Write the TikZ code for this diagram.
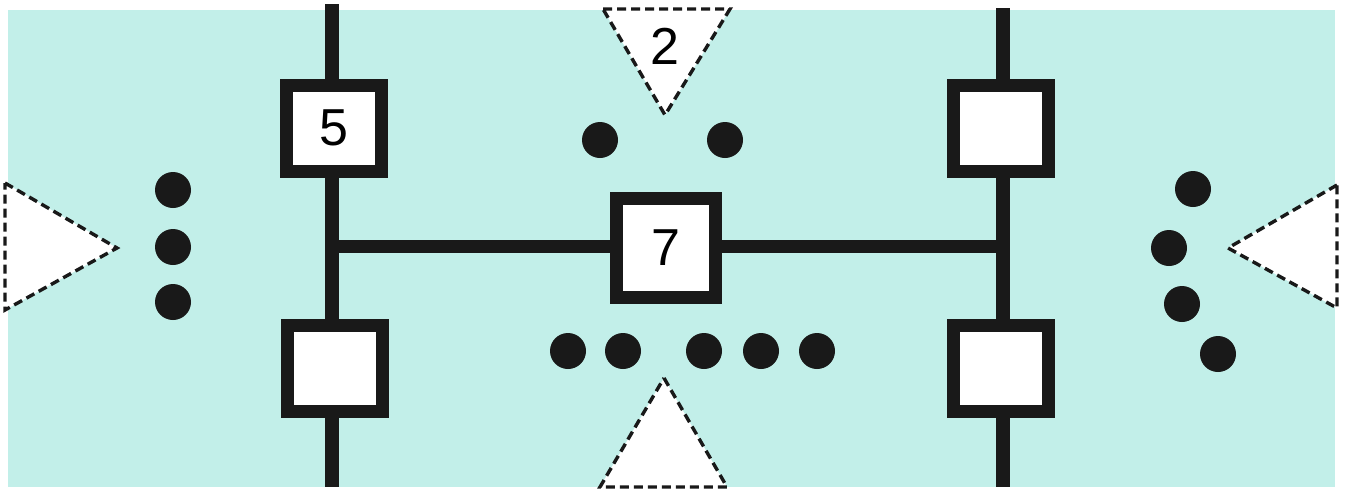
\documentclass[tikz,border=0pt]{standalone}
\usepackage{fontspec}
\setmainfont{Liberation Sans}
\begin{document}
\begin{tikzpicture}[x=1pt,y=-1pt,
  bus/.style={line width=14pt,draw=black!90},
  unit/.style={draw=black!90,fill=white,line width=13pt,minimum width=95pt,minimum height=86pt,inner sep=0pt,font=\fontsize{52}{52}\selectfont},
  hub/.style={unit,minimum width=99pt,minimum height=99pt},
  port/.style={draw=black!90,fill=white,line width=3.4pt,dash pattern=on 9pt off 5pt,line join=miter},
  dot/.style={fill=black!90},
  digit/.style={font=\fontsize{52}{52}\selectfont,inner sep=0pt}]
\useasboundingbox (0,0) rectangle (1347,493);
\fill[fill={rgb,255:red,194;green,239;blue,233}] (8,10) rectangle (1335,487);
% bus coordinates
\coordinate (lt) at (332,4);
\coordinate (lb) at (332,487);
\coordinate (rt) at (1003,8);
\coordinate (rb) at (1003,487);
\coordinate (jl) at (332,246);
\coordinate (jr) at (1003,246);
\draw[bus] (lt) -- (lb);
\draw[bus] (rt) -- (rb);
\draw[bus,line width=13pt] (jl) -- (jr);
% units
\node[unit] (u5) at (334,128) {5};
\node[unit] (ul) at (335,368) {};
\node[unit] (ur) at (1001,128) {};
\node[unit] (urb) at (1001,368) {};
\node[hub] (u7) at (666,248) {7};
% ports (dashed triangles)
\draw[port] (603,9) -- (730,9) -- (665,115) -- cycle;
\node[digit] (p2) at (665,46) {2};
\draw[port] (664,378) -- (727,487) -- (600,487) -- cycle;
\draw[port] (5,183) -- (117,248) -- (5,310) -- cycle;
\draw[port] (1337,185) -- (1228,248) -- (1337,308) -- cycle;
% dots
\foreach \p in {(173,190),(173,247),(173,302),
                (1193,189),(1169,248),(1182,304),(1218,354),
                (600,140),(725,140),
                (568,351),(623,351),(704,351),(761,351),(817,351)}
  \fill[dot] \p circle (18);
\end{tikzpicture}
\end{document}
